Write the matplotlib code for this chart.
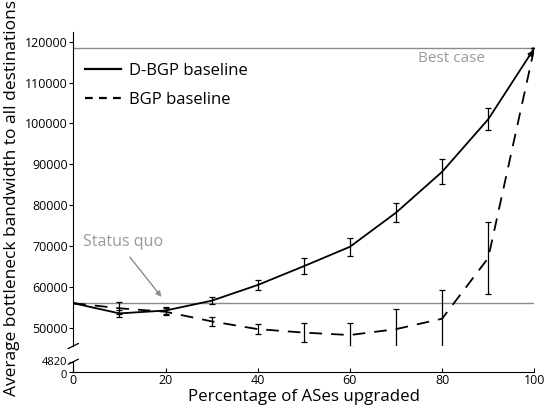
import matplotlib
matplotlib.use("Agg")
import matplotlib.pyplot as plt
import matplotlib.transforms as mtrans
from matplotlib.lines import Line2D

plt.rcParams['font.family'] = ['Open Sans', 'DejaVu Sans']

pct = [0, 10, 20, 30, 40, 50, 60, 70, 80, 90, 100]
dbgp = [56000, 53500, 54200, 56600, 60450, 65050, 69800, 78150, 88150, 101000, 118400]
dbgp_err = [0, 900, 800, 900, 1200, 1900, 2250, 2300, 3050, 2650, 0]
bgp = [56000, 54750, 53900, 51550, 49650, 48800, 48200, 49650, 52200, 67050, 118400]
bgp_err = [0, 1500, 800, 1150, 1200, 2250, 2850, 4850, 7050, 8900, 0]
best_case = 118400
status_quo = 56000
low_ticks = [0, 4820]
x_ticks = [0, 20, 40, 60, 80, 100]
up_ticks = [50000, 60000, 70000, 80000, 90000, 100000, 110000, 120000]

W, H = 546, 408
fig = plt.figure(figsize=(W / 100, H / 100), dpi=100)

def fx(px):
    return px / W

def fy(py):
    return 1 - py / H

L, R = 73.3, 534.3
ax = fig.add_axes([fx(L), fy(346), fx(R - L), fy(32) - fy(346)])
axl = fig.add_axes([fx(L), fy(371.7), fx(R - L), fy(361.7) - fy(371.7)])

gray = '#8c8c8c'
tgray = '#9a9a9a'

for a in (ax, axl):
    a.set_xlim(0, 100)
    for s in ('top', 'right'):
        a.spines[s].set_visible(False)
    a.patch.set_alpha(0)

ax.set_ylim(45520, 122370)
ax.spines['bottom'].set_visible(False)
ax.set_xticks([])
ax.set_yticks(up_ticks)
ax.set_yticklabels([str(t) for t in up_ticks], fontsize=9)
ax.tick_params(axis='y', direction='out', length=3, width=0.8, pad=1)

axl.set_ylim(0, 4820)
axl.set_yticks(low_ticks)
axl.set_yticklabels([str(t) for t in low_ticks], fontsize=8)
axl.tick_params(axis='y', direction='out', length=3, width=0.8, pad=1)
axl.set_xticks(x_ticks)
axl.set_xticklabels([str(t) for t in x_ticks], fontsize=9)
axl.tick_params(axis='x', direction='in', length=3, width=0.8, pad=2)
zero_lbl = axl.get_yticklabels()[0]
zero_lbl.set_transform(zero_lbl.get_transform() +
                       mtrans.ScaledTranslation(-1 / 100, -2.5 / 100, fig.dpi_scale_trans))
top_lbl = axl.get_yticklabels()[1]
top_lbl.set_transform(top_lbl.get_transform() +
                      mtrans.ScaledTranslation(0, 1 / 100, fig.dpi_scale_trans))

# reference lines
ax.axhline(best_case, color=gray, lw=1.0)
ax.axhline(status_quo, color=gray, lw=1.0)

# data
ax.errorbar(pct, dbgp, yerr=dbgp_err, color='black', lw=1.3, elinewidth=0.9,
            capsize=2.5, capthick=0.9)
ax.errorbar(pct, bgp, yerr=bgp_err, color='black', lw=1.3, elinewidth=0.9,
            capsize=2.5, capthick=0.9, ls=(0, (7, 5)))

ax.annotate('', xy=(100, best_case), xytext=(98.5, best_case - 2600),
            arrowprops=dict(arrowstyle='-|>', color='black', lw=1.0,
                            mutation_scale=7))

ax.text(82, 115800, 'Best case', color=tgray, fontsize=11,
        ha='center', va='center')
ax.text(2, 71000, 'Status quo', color=tgray, fontsize=11.5,
        ha='left', va='center')
ax.annotate('', xy=(19.5, 57000), xytext=(11.9, 67800),
            arrowprops=dict(arrowstyle='-|>', color=gray, lw=1.0,
                            mutation_scale=8))

handles = [Line2D([], [], color='black', lw=1.6),
           Line2D([], [], color='black', lw=1.6, ls=(0, (3.5, 2.8)))]
leg = ax.legend(handles, ['D-BGP baseline', 'BGP baseline'],
                loc='upper left', bbox_to_anchor=(-0.008, 0.948), frameon=False,
                fontsize=12, handlelength=2.2, handletextpad=0.45,
                labelspacing=0.75)

# break marks
for py in (346, 361.7):
    fig.add_artist(Line2D([fx(L - 5), fx(L + 5)], [fy(py + 2.5), fy(py - 2.5)],
                          color='black', lw=0.9))

fig.text(fx(12), fy(198), 'Average bottleneck bandwidth to all destinations',
         rotation=90, ha='center', va='center', fontsize=12.5)
fig.text(fx(303.8), fy(397), 'Percentage of ASes upgraded',
         ha='center', va='center', fontsize=12.2)

fig.savefig('out.png', dpi=100)
